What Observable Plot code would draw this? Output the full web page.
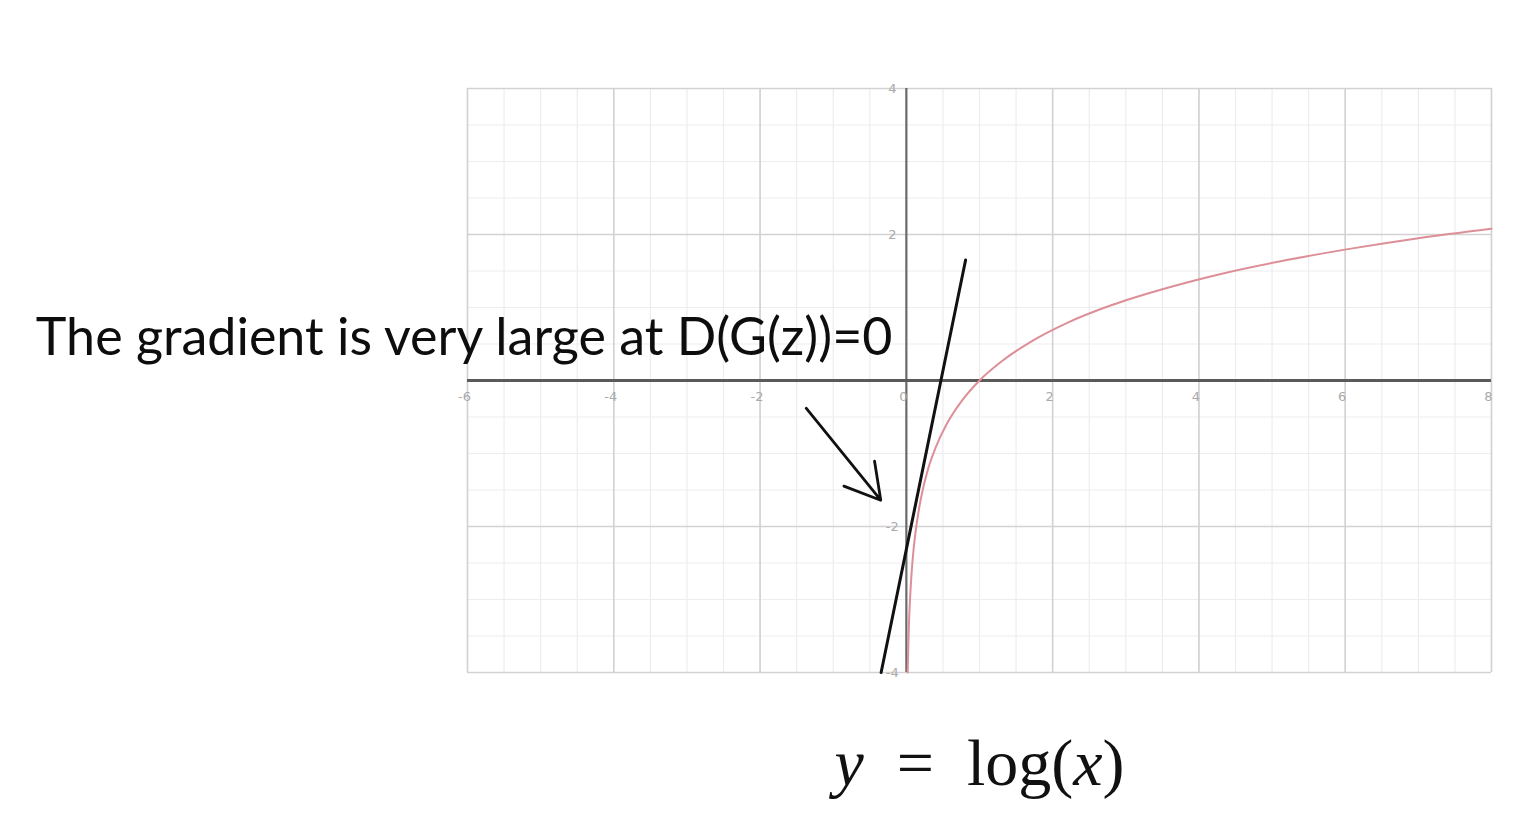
<!DOCTYPE html>
<html><head><meta charset="utf-8">
<script src="https://cdn.jsdelivr.net/npm/d3@7"></script>
<script src="https://cdn.jsdelivr.net/npm/@observablehq/plot@0.6"></script>
<style>body{margin:0;background:#fff;overflow:hidden}</style>
</head><body><div id="chart"></div>
<script>
// y = log(x)
const curveX = [0.018,0.025,0.035,0.05,0.07,0.1,0.14,0.2,0.3,0.4,0.55,0.75,1,1.3,1.7,2.2,2.8,3.5,4.3,5.2,6.1,7,8];
const curveY = [-4.0,-3.69,-3.35,-3.0,-2.66,-2.3,-1.97,-1.61,-1.2,-0.92,-0.6,-0.29,0,0.26,0.53,0.79,1.03,1.25,1.46,1.65,1.81,1.95,2.08];
// steep straight line
const tangentX = [-0.345, 0.81];
const tangentY = [-4, 1.65];
// arrow
const arrowStart = [-1.37, -0.38];
const arrowEnd = [-0.35, -1.64];
// tick labels
const xTicks = [-6,-4,-2,0,2,4,6,8];
const xTickLabels = ["-6","-4","-2","0","2","4","6","8"];
const yTicks = [4,2,-2,-4];
const yTickLabels = ["4","2","-2","-4"];
const majorX = [-6,-4,-2,2,4,6,8];
const majorY = [-4,-2,2,4];
const annotationText = "The gradient is very large at D(G(z))=0";
const formulaText = "y = log(x)";

const minorX = d3.range(-6, 8.001, 0.5);
const minorY = d3.range(-4, 4.001, 0.5);
const curve = curveX.map((x,i)=>({x, y: curveY[i]}));
const tangent = tangentX.map((x,i)=>({x, y: tangentY[i]}));
const xLab = xTicks.map((v,i)=>({v, t: xTickLabels[i]}));
const yLab = yTicks.map((v,i)=>({v, t: yTickLabels[i]}));

const plot = Plot.plot({
  width: 1532, height: 823,
  marginLeft: 467, marginRight: 41, marginTop: 88, marginBottom: 151,
  x: {domain: [-6, 8], axis: null},
  y: {domain: [-4, 4], axis: null},
  style: {background: "#fff", overflow: "visible"},
  marks: [
    Plot.ruleX(minorX, {stroke: "#ededed", strokeWidth: 1.2}),
    Plot.ruleY(minorY, {stroke: "#ededed", strokeWidth: 1.2}),
    Plot.ruleX(majorX, {stroke: "#d2d2d2", strokeWidth: 1.6}),
    Plot.ruleY(majorY, {stroke: "#d2d2d2", strokeWidth: 1.6}),
    Plot.ruleX([0], {stroke: "#6a6a6a", strokeWidth: 2.2}),
    Plot.ruleY([0], {stroke: "#5a5a5a", strokeWidth: 2.8}),
    Plot.text(xLab, {x: "v", y: () => 0, text: "t", dy: 16, dx: -3, fill: "#aaaaaa", fontSize: 13, fontFamily: "DejaVu Sans"}),
    Plot.text(yLab, {x: () => 0, y: "v", text: "t", dx: -14, fill: "#aaaaaa", fontSize: 13, fontFamily: "DejaVu Sans"}),
    Plot.line(curve, {x: "x", y: "y", stroke: "#dd8f98", strokeWidth: 2, curve: "monotone-x"}),
    Plot.line(tangent, {x: "x", y: "y", stroke: "#111", strokeWidth: 3}),
    Plot.arrow([0], {x1: ()=>arrowStart[0], y1: ()=>arrowStart[1], x2: ()=>arrowEnd[0], y2: ()=>arrowEnd[1], stroke: "#111", strokeWidth: 2.8, headLength: 28, headAngle: 60}),
    Plot.text([annotationText], {x: ()=>-0.19, y: ()=>0.58, text: d=>d, textAnchor: "end", lineAnchor: "middle", fontSize: 52, fontFamily: "Lato", fill: "#0d0d0d", className: "annot"}),
    Plot.text([formulaText], {frameAnchor: "bottom", text: d=>d, dy: 91, lineAnchor: "middle", fontSize: 66, fontFamily: "Liberation Serif", fill: "#111", className: "formula"})
  ]
});
document.getElementById("chart").appendChild(plot);
// mixed italic/upright math label
const ft = d3.select(plot).select(".formula text");
ft.text(null).attr("xml:space", "preserve");
ft.append("tspan").attr("font-style", "italic").text("y");
ft.append("tspan").text("\u2002=\u2002log(");
ft.append("tspan").attr("font-style", "italic").text("x");
ft.append("tspan").text(")");
</script>
</body></html>
